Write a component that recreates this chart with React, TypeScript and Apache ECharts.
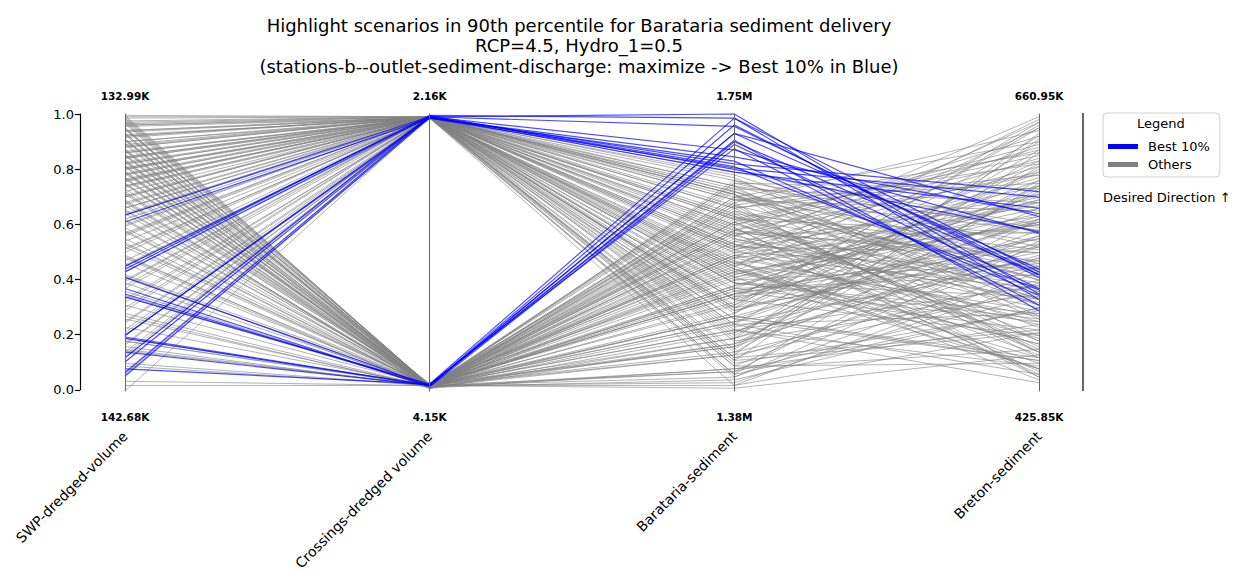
import React, { useEffect, useRef } from "react";
import * as echarts from "echarts";

const axisNames = ["SWP-dredged-volume", "Crossings-dredged volume", "Barataria-sediment", "Breton-sediment"];
const topLabels = ["132.99K", "2.16K", "1.75M", "660.95K"];
const bottomLabels = ["142.68K", "4.15K", "1.38M", "425.85K"];
const titleLines = [
  "Highlight scenarios in 90th percentile for Barataria sediment delivery",
  "RCP=4.5, Hydro_1=0.5",
  "(stations-b--outlet-sediment-discharge: maximize -> Best 10% in Blue)",
];

// Normalised scores (0 = bottom label, 1 = top label) — Best 10%
const bestSwp = [0.635, 0.61, 0.45, 0.44, 0.43, 0.41, 0.37, 0.35, 0.34, 0.2, 0.2, 0.19, 0.14, 0.12, 0.105, 0.08, 0.065, 0.055, 0.195];
const bestCrossings = [0.99, 0.985, 0.99, 0.995, 0.99, 0.02, 0.015, 0.02, 0.025, 0.99, 0.985, 0.02, 0.02, 0.995, 0.99, 0.025, 0.99, 0.985, 0.02];
const bestBarataria = [0.82, 0.805, 1.0, 0.985, 0.955, 0.93, 0.89, 0.905, 0.875, 0.79, 0.845, 0.96, 0.93, 0.8, 0.87, 0.985, 0.81, 0.83, 0.9];
const bestBreton = [0.72, 0.7, 0.35, 0.33, 0.42, 0.44, 0.37, 0.29, 0.31, 0.66, 0.64, 0.41, 0.63, 0.575, 0.57, 0.43, 0.365, 0.345, 0.42];

// Others
const otherSwp = [
  0.99, 0.98, 0.97, 0.995, 0.96, 0.95, 0.94, 0.93, 0.92, 0.91,
  0.9, 0.895, 0.88, 0.87, 0.86, 0.85, 0.84, 0.83, 0.82, 0.81,
  0.8, 0.79, 0.78, 0.77, 0.76, 0.75, 0.74, 0.73, 0.72, 0.71,
  0.7, 0.69, 0.68, 0.67, 0.66, 0.65, 0.64, 0.62, 0.6, 0.58,
  0.57, 0.55, 0.54, 0.52, 0.5, 0.49, 0.47, 0.46, 0.43, 0.42,
  0.4, 0.39, 0.38, 0.36, 0.33, 0.31, 0.29, 0.27, 0.25, 0.23,
  0.21, 0.18, 0.17, 0.16, 0.15, 0.12, 0.09, 0.05, 0.035, 0.0,
  0.985, 0.975, 0.965, 0.955, 0.945, 0.935, 0.925, 0.915, 0.905, 0.89,
  0.875, 0.865, 0.855, 0.845, 0.835, 0.825, 0.815, 0.805, 0.795, 0.785,
  0.765, 0.755, 0.745, 0.735, 0.715, 0.705, 0.685, 0.675, 0.655, 0.635,
  0.615, 0.595, 0.575, 0.565, 0.535, 0.515, 0.485, 0.455, 0.415, 0.395,
  0.345, 0.32, 0.28, 0.245, 0.19, 0.165, 0.145, 0.13, 0.995, 0.99,
  0.985, 0.97, 0.96, 0.95, 0.94, 0.93, 0.92, 0.91, 0.9, 0.89,
  0.88, 0.87, 0.86, 0.85, 0.84, 0.83, 0.82, 0.81, 0.8, 0.79,
  0.78, 0.77, 0.76, 0.75, 0.74, 0.72, 0.7, 0.68, 0.66, 0.64,
  0.62, 0.59, 0.56, 0.53, 0.51, 0.48, 0.45, 0.41, 0.37, 0.34,
  0.3, 0.26, 0.22, 0.18, 0.14, 0.1, 0.07, 0.02, 0.975, 0.965,
  0.945, 0.925, 0.905, 0.885, 0.865, 0.845, 0.825, 0.805, 0.785, 0.765,
];
const otherCrossings = [
  0.99, 0.02, 0.99, 0.015, 0.985, 0.02, 0.99, 0.01, 0.99, 0.025,
  0.985, 0.02, 0.99, 0.015, 0.99, 0.02, 0.985, 0.02, 0.99, 0.01,
  0.99, 0.025, 0.985, 0.02, 0.99, 0.015, 0.99, 0.02, 0.985, 0.02,
  0.99, 0.01, 0.99, 0.02, 0.985, 0.025, 0.99, 0.02, 0.99, 0.015,
  0.99, 0.02, 0.985, 0.02, 0.99, 0.01, 0.99, 0.02, 0.985, 0.025,
  0.99, 0.02, 0.99, 0.015, 0.985, 0.02, 0.99, 0.01, 0.99, 0.02,
  0.985, 0.02, 0.99, 0.015, 0.02, 0.99, 0.02, 0.99, 0.02, 0.99,
  0.02, 0.99, 0.015, 0.985, 0.02, 0.99, 0.01, 0.99, 0.025, 0.99,
  0.02, 0.985, 0.015, 0.99, 0.02, 0.99, 0.01, 0.985, 0.02, 0.99,
  0.02, 0.99, 0.015, 0.985, 0.02, 0.99, 0.01, 0.99, 0.02, 0.985,
  0.02, 0.99, 0.015, 0.99, 0.02, 0.985, 0.02, 0.99, 0.01, 0.99,
  0.02, 0.99, 0.015, 0.985, 0.02, 0.99, 0.02, 0.99, 0.99, 0.02,
  0.99, 0.02, 0.99, 0.015, 0.985, 0.02, 0.99, 0.02, 0.99, 0.01,
  0.99, 0.025, 0.985, 0.02, 0.99, 0.015, 0.99, 0.02, 0.985, 0.02,
  0.99, 0.01, 0.99, 0.02, 0.985, 0.025, 0.99, 0.02, 0.99, 0.015,
  0.99, 0.02, 0.985, 0.02, 0.99, 0.01, 0.99, 0.02, 0.985, 0.02,
  0.99, 0.015, 0.99, 0.02, 0.99, 0.02, 0.99, 0.02, 0.02, 0.99,
  0.02, 0.985, 0.02, 0.99, 0.015, 0.99, 0.02, 0.99, 0.02, 0.985,
];
const otherBarataria = [
  0.62, 0.35, 0.12, 0.7, 0.48, 0.25, 0.55, 0.08, 0.66, 0.41,
  0.3, 0.73, 0.18, 0.58, 0.44, 0.05, 0.76, 0.37, 0.52, 0.21,
  0.63, 0.46, 0.28, 0.68, 0.14, 0.56, 0.39, 0.75, 0.09, 0.5,
  0.33, 0.61, 0.23, 0.43, 0.71, 0.16, 0.53, 0.31, 0.67, 0.04,
  0.45, 0.59, 0.26, 0.74, 0.11, 0.49, 0.36, 0.64, 0.2, 0.54,
  0.7, 0.27, 0.42, 0.07, 0.57, 0.34, 0.77, 0.19, 0.47, 0.65,
  0.02, 0.38, 0.6, 0.13, 0.51, 0.29, 0.72, 0.4, 0.22, 0.58,
  0.53, 0.29, 0.66, 0.06, 0.45, 0.72, 0.17, 0.39, 0.61, 0.24,
  0.49, 0.78, 0.32, 0.1, 0.57, 0.43, 0.68, 0.19, 0.35, 0.62,
  0.03, 0.51, 0.27, 0.74, 0.4, 0.15, 0.55, 0.69, 0.22, 0.46,
  0.63, 0.33, 0.75, 0.09, 0.48, 0.6, 0.25, 0.71, 0.38, 0.56,
  0.14, 0.64, 0.44, 0.3, 0.58, 0.79, 0.36, 0.52, 0.41, 0.01,
  0.34, 0.6, 0.21, 0.47, 0.69, 0.13, 0.51, 0.28, 0.74, 0.43,
  0.06, 0.58, 0.37, 0.65, 0.24, 0.52, 0.71, 0.17, 0.45, 0.62,
  0.31, 0.76, 0.11, 0.54, 0.39, 0.67, 0.26, 0.48, 0.72, 0.08,
  0.56, 0.35, 0.63, 0.19, 0.44, 0.7, 0.3, 0.57, 0.12, 0.49,
  0.66, 0.24, 0.41, 0.61, 0.05, 0.37, 0.53, 0.02, 0.42, 0.59,
  0.27, 0.73, 0.16, 0.5, 0.67, 0.33, 0.07, 0.46, 0.69, 0.22,
];
const otherBreton = [
  0.85, 0.55, 0.22, 0.4, 0.97, 0.62, 0.3, 0.15, 0.78, 0.08,
  0.5, 0.68, 0.35, 0.92, 0.12, 0.45, 0.58, 0.25, 0.99, 0.72,
  0.18, 0.6, 0.82, 0.05, 0.4, 0.88, 0.28, 0.52, 0.1, 0.74,
  0.63, 0.2, 0.48, 0.95, 0.33, 0.56, 0.13, 0.8, 0.42, 0.3,
  0.7, 0.07, 0.61, 0.46, 0.86, 0.24, 0.53, 0.16, 0.76, 0.38,
  0.9, 0.11, 0.66, 0.34, 0.5, 0.83, 0.27, 0.58, 0.04, 0.44,
  0.21, 0.69, 0.36, 0.93, 0.19, 0.55, 0.31, 0.64, 0.09, 0.47,
  0.33, 0.61, 0.14, 0.75, 0.98, 0.37, 0.52, 0.26, 0.87, 0.06,
  0.67, 0.43, 0.79, 0.29, 0.57, 0.17, 0.94, 0.49, 0.71, 0.23,
  0.39, 0.81, 0.12, 0.59, 0.46, 0.91, 0.32, 0.65, 0.03, 0.77,
  0.41, 0.2, 0.73, 0.54, 0.27, 0.89, 0.45, 0.14, 0.62, 0.35,
  0.74, 0.51, 0.08, 0.96, 0.39, 0.6, 0.22, 0.84, 0.68, 0.13,
  0.47, 0.83, 0.66, 0.1, 0.54, 0.36, 0.71, 0.92, 0.18, 0.6,
  0.3, 0.78, 0.42, 0.15, 0.87, 0.5, 0.26, 0.73, 0.08, 0.57,
  0.95, 0.4, 0.21, 0.68, 0.34, 0.86, 0.11, 0.63, 0.45, 0.24,
  0.79, 0.52, 0.31, 0.9, 0.17, 0.58, 0.74, 0.06, 0.48, 0.37,
  0.82, 0.28, 0.61, 0.14, 0.53, 0.76, 0.25, 0.43, 0.69, 0.05,
  0.56, 0.33, 0.81, 0.44, 0.12, 0.97, 0.62, 0.29, 0.75, 0.38,
];

const BLUE = "#0000ff";
const GREY = "#808080";
const FONT = "DejaVu Sans";

function rows(a: number[], b: number[], c: number[], d: number[]) {
  return a.map((v, i) => [v, b[i], c[i], d[i]]);
}

export default function App() {
  const ref = useRef<HTMLDivElement>(null);
  useEffect(() => {
    if (!ref.current) return;
    const chart = echarts.init(ref.current, null, { renderer: "svg" });
    const grid = { left: 125, right: 202, top: 114, bottom: 182 };
    const hiddenLabel = { show: false, formatter: () => "", color: "rgba(0,0,0,0)" };
    chart.setOption({
      animation: false,
      backgroundColor: "#ffffff",
      textStyle: { fontFamily: FONT },
      title: {
        text: titleLines.join("\n"),
        left: 574,
        top: 10,
        textAlign: "center",
        textStyle: { fontFamily: FONT, fontSize: 18, fontWeight: "normal", color: "#000", lineHeight: 20.5 },
      },
      grid: { ...grid, show: false },
      xAxis: [
        {
          type: "category",
          data: axisNames,
          position: "bottom",
          boundaryGap: false,
          axisLine: { show: false },
          axisTick: { show: false },
          axisLabel: {
            formatter: (_v: string, i: number) => bottomLabels[i],
            fontFamily: FONT,
            fontSize: 10.5,
            fontWeight: "bold",
            color: "#000",
            margin: 22,
            interval: 0,
          },
        },
        {
          type: "category",
          data: axisNames,
          position: "bottom",
          boundaryGap: false,
          axisLine: { show: false },
          axisTick: { show: false },
          axisLabel: {
            rotate: 45,
            fontFamily: FONT,
            fontSize: 14,
            color: "#000",
            margin: 44,
            interval: 0,
          },
        },
        {
          type: "category",
          data: axisNames,
          position: "top",
          boundaryGap: false,
          axisLine: { show: false },
          axisTick: { show: false },
          axisLabel: {
            formatter: (_v: string, i: number) => topLabels[i],
            fontFamily: FONT,
            fontSize: 10.5,
            fontWeight: "bold",
            color: "#000",
            margin: 13,
            interval: 0,
          },
        },
      ],
      yAxis: {
        type: "value",
        min: 0,
        max: 1,
        interval: 0.2,
        offset: 45,
        position: "left",
        splitLine: { show: false },
        axisLine: { show: true, lineStyle: { color: "#000", width: 1.2 } },
        axisTick: { show: true, length: 5, lineStyle: { color: "#000", width: 1.2 } },
        axisLabel: {
          formatter: (v: number) => v.toFixed(1),
          fontFamily: FONT,
          fontSize: 13,
          color: "#000",
          margin: 6,
        },
      },
      parallel: {
        ...grid,
        layout: "horizontal",
        parallelAxisDefault: {
          axisLabel: hiddenLabel,
          axisTick: { show: false },
          nameTextStyle: { color: "rgba(0,0,0,0)" },
        },
      },
      parallelAxis: axisNames.map((_n, i) => ({
        dim: i,
        min: 0,
        max: 1,
        axisLine: { show: true, lineStyle: { color: "#666", width: 1 } },
        axisTick: { show: false },
        axisLabel: hiddenLabel,
        splitLine: { show: false },
      })),
      legend: {
        data: [
          { name: "Best 10%", itemStyle: { color: BLUE } },
          { name: "Others", itemStyle: { color: GREY } },
        ],
        orient: "vertical",
        left: 1103,
        top: 113,
        padding: [27, 10, 6, 5],
        itemGap: 5,
        itemWidth: 28,
        itemHeight: 3,
        icon: "rect",
        borderColor: "#d0d0d0",
        borderWidth: 1,
        borderRadius: 4,
        textStyle: { fontFamily: FONT, fontSize: 13, color: "#000", padding: [0, 0, 0, 6] },
      },
      graphic: [
        {
          type: "text",
          left: 1137,
          top: 117,
          style: { text: "Legend", fontFamily: FONT, fontSize: 13, fill: "#000" },
        },
        {
          type: "text",
          left: 1103,
          top: 191,
          style: { text: "Desired Direction \u2191", fontFamily: FONT, fontSize: 13, fill: "#000" },
        },
        {
          type: "line",
          shape: { x1: 1083, y1: 113, x2: 1083, y2: 391 },
          style: { stroke: "#333", lineWidth: 1.5 },
        },
      ],
      series: [
        {
          type: "parallel",
          name: "Others",
          parallelIndex: 0,
          lineStyle: { color: GREY, width: 1, opacity: 0.6 },
          emphasis: { disabled: true },
          data: rows(otherSwp, otherCrossings, otherBarataria, otherBreton),
        },
        {
          type: "parallel",
          name: "Best 10%",
          parallelIndex: 0,
          lineStyle: { color: BLUE, width: 1.2, opacity: 0.7 },
          emphasis: { disabled: true },
          data: rows(bestSwp, bestCrossings, bestBarataria, bestBreton),
        },
      ],
    });
    return () => chart.dispose();
  }, []);
  return <div ref={ref} style={{ position: "fixed", left: 0, top: 0, width: 1241, height: 573, background: "#fff" }} />;
}
